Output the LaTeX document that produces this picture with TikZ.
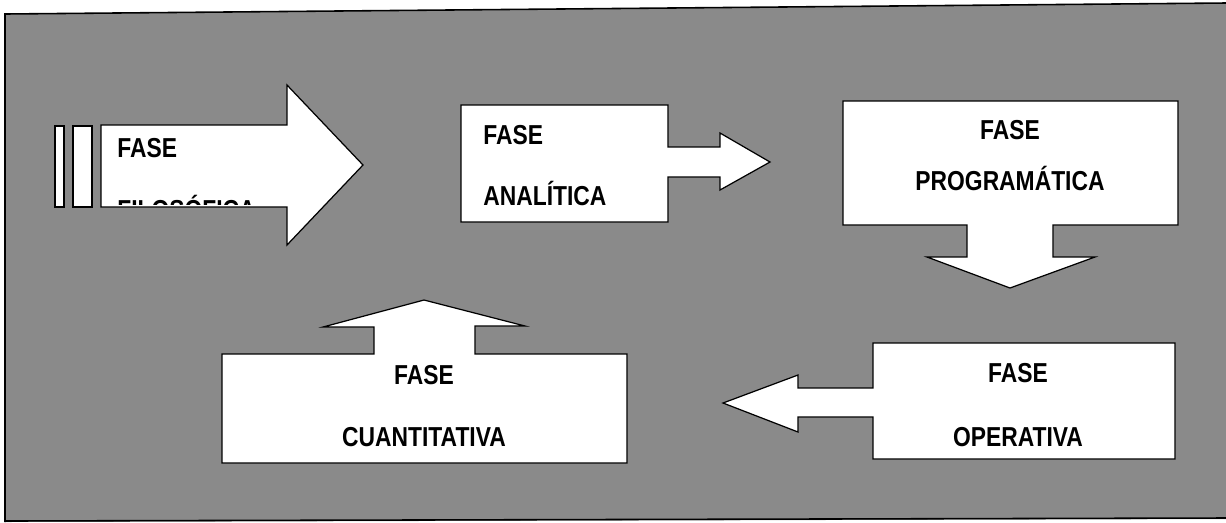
\documentclass[tikz,border=0pt]{standalone}
\usepackage{fontspec}
\setmainfont{Liberation Sans}
\usepackage{graphicx}
\definecolor{fondo}{RGB}{138,138,138}
\newcommand{\fasefont}{\fontsize{13pt}{15pt}\selectfont\bfseries}
\newcommand{\alto}[1]{\scalebox{1}[1.2]{#1}}

\begin{document}
\begin{tikzpicture}[x=0.02cm,y=-0.02cm,
  flecha/.style={fill=white,draw=black,line width=0.7pt,line join=miter},
  rotulo/.style={inner sep=0pt,font=\fasefont}]
\useasboundingbox (0,0) rectangle (1226,522);
% fondo y marco
\fill[fondo] (5,14) -- (1226,3) -- (1226,519) -- (5,522) -- cycle;
\draw[line width=0.9pt] (1226,3) -- (5,14) -- (5,522);
\draw[line width=0.9pt] (5,521) -- (1226,518);
% fase filosofica
\draw[flecha] (55,126) rectangle (64,207);
\draw[flecha] (73,126) rectangle (92,207);
\draw[flecha] (101,125) -- (287,125) -- (287,85) -- (363,165) -- (287,245) -- (287,207) -- (101,207) -- cycle;
\node[rotulo,anchor=west] (filo1) at (117,148) {\alto{FASE}};
\begin{scope}
\clip (101,125) rectangle (287,204);
\node[rotulo,anchor=west] (filo2) at (117,207) {\alto{FILOSÓFICA}};
\end{scope}
% fase analitica
\draw[flecha] (461,105) -- (668,105) -- (668,147) -- (720,147) -- (720,133) -- (770,162) -- (720,190) -- (720,177) -- (668,177) -- (668,222) -- (461,222) -- cycle;
\node[rotulo,anchor=west] (ana1) at (483,135) {\alto{FASE}};
\node[rotulo,anchor=west] (ana2) at (483,193) {\alto{ANALÍTICA}};
% fase programatica
\draw[flecha] (843,101) -- (1178,101) -- (1178,225) -- (1053,225) -- (1053,257) -- (1095,257) -- (1010,288) -- (927,257) -- (967,257) -- (967,225) -- (843,225) -- cycle;
\node[rotulo] (prog1) at (1010,130) {\alto{FASE}};
\node[rotulo] (prog2) at (1010,178) {\alto{PROGRAMÁTICA}};
% fase operativa
\draw[flecha] (873,343) -- (1175,343) -- (1175,459) -- (873,459) -- (873,417) -- (798,417) -- (798,432) -- (723,403) -- (798,375) -- (798,388) -- (873,388) -- cycle;
\node[rotulo] (oper1) at (1018,373) {\alto{FASE}};
\node[rotulo] (oper2) at (1018,437) {\alto{OPERATIVA}};
% fase cuantitativa
\draw[flecha] (222,354) -- (374,354) -- (374,327) -- (323,327) -- (424,300) -- (525,326) -- (475,326) -- (475,354) -- (627,354) -- (627,463) -- (222,463) -- cycle;
\node[rotulo] (cuan1) at (424,375) {\alto{FASE}};
\node[rotulo] (cuan2) at (424,437) {\alto{CUANTITATIVA}};
\end{tikzpicture}
\end{document}
